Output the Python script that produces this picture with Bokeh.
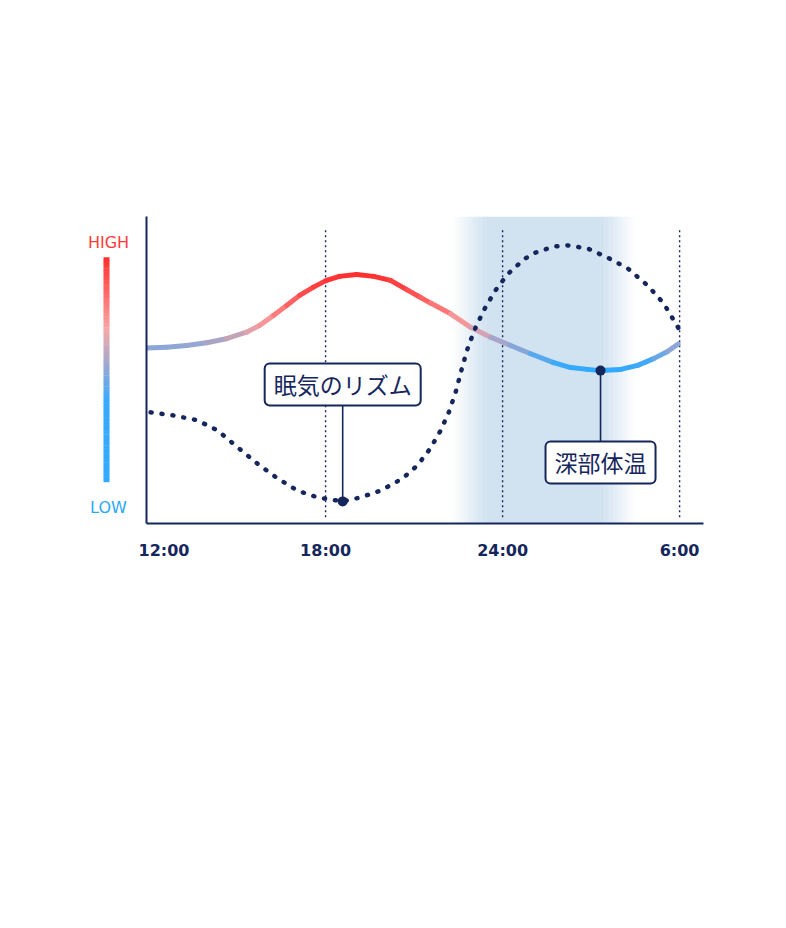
import numpy as np
from bokeh.plotting import figure
from bokeh.layouts import row
from bokeh.models import Range1d, FixedTicker, Label
from bokeh.core.properties import value
from bokeh.embed import file_html
from bokeh.resources import INLINE

NAVY = "#15265c"

# ---------------- data ----------------
tick_hours = [12, 18, 24, 30]
tick_labels = ["12:00", "18:00", "24:00", "6:00"]
guide_hours = [18, 24, 30]

# core body temperature (relative level 0-100)
temp_hours = [11.93, 12.61, 13.29, 13.97, 14.64, 15.32, 15.76, 16.24, 16.68, 17.12,
              17.59, 18.03, 18.47, 19.05, 19.63, 20.20, 20.78, 21.22, 21.56, 22.24,
              22.92, 23.59, 24.27, 24.95, 25.73, 26.31, 26.88, 27.32, 28.00, 28.58,
              29.12, 29.59, 29.95]
temp_level = [57.2, 57.4, 58.0, 58.9, 60.2, 62.3, 64.5, 67.8, 71.0, 74.3,
              77.0, 79.2, 80.5, 81.1, 80.5, 79.2, 76.0, 73.6, 71.8, 68.3,
              63.9, 60.7, 58.0, 55.3, 52.4, 50.8, 50.2, 49.8, 50.2, 51.5,
              53.7, 56.0, 58.5]

# sleepiness rhythm (relative level 0-100)
sleep_hours = [12.07, 12.85, 13.66, 14.34, 15.02, 15.69, 16.37, 17.05, 17.73, 18.58,
               19.19, 19.86, 20.60, 21.11, 21.54, 21.90, 22.18, 22.41, 22.60, 22.80,
               23.05, 23.37, 23.74, 24.16, 24.72, 25.04, 25.73, 26.20, 26.88, 27.56,
               28.24, 28.92, 29.46, 29.97]
sleep_level = [36.2, 35.2, 33.6, 30.3, 24.8, 19.5, 14.7, 10.7, 8.5, 7.2,
               8.5, 10.7, 14.6, 18.9, 24.3, 30.3, 36.3, 42.8, 49.8, 56.6,
               63.1, 69.6, 75.7, 81.1, 86.0, 88.0, 90.2, 90.6, 89.6, 86.6,
               83.1, 77.5, 71.7, 63.5]

# sleep period shading: fade-in start, full start, full end, fade-out end
sleep_period = [22.20, 23.50, 27.32, 28.60]

label_sleep = "眠気のリズム"
label_temp = "深部体温"
legend_high = "HIGH"
legend_low = "LOW"

# ---------------- helpers ----------------
def hex2rgb(h):
    h = h.lstrip("#")
    return np.array([int(h[i:i + 2], 16) for i in (0, 2, 4)], dtype=float)

def rgb2hex(c):
    c = np.clip(np.round(c), 0, 255).astype(int)
    return "#%02x%02x%02x" % tuple(c)

def ramp(stops, v):
    vs = [s[0] for s in stops]
    if v <= vs[0]:
        return stops[0][1]
    if v >= vs[-1]:
        return stops[-1][1]
    for k in range(len(stops) - 1):
        if vs[k] <= v <= vs[k + 1]:
            t = (v - vs[k]) / (vs[k + 1] - vs[k])
            return rgb2hex(hex2rgb(stops[k][1]) * (1 - t) + hex2rgb(stops[k + 1][1]) * t)

curve_stops = [(49.8, "#30a9ff"), (52.5, "#40a9fa"), (56.0, "#7ea6dc"), (58.5, "#98a6d2"),
               (61.0, "#c4a3b8"), (64.5, "#f3a2a5"), (70.0, "#ff7676"), (76.0, "#ff4848"),
               (81.5, "#ff2d2d")]
bar_stops = [(13.4, "#33aaff"), (40.0, "#36aaff"), (53.0, "#a8a8cc"), (63.0, "#f6a9a9"),
             (75.0, "#ff6a6a"), (86.6, "#ff2e2e")]

# ---------------- main figure ----------------
W_LEG = 138
yr = Range1d(0, 100)
p = figure(width=786 - W_LEG, height=928, x_range=Range1d(11.93, 30.81), y_range=yr,
           output_backend="svg", toolbar_location=None,
           min_border_left=146 - W_LEG, min_border_right=786 - 703,
           min_border_top=216, min_border_bottom=928 - 523)
p.outline_line_color = None
p.xgrid.visible = False
p.ygrid.visible = False
p.background_fill_color = "white"
p.border_fill_color = "white"

# shading
shade_rgb = hex2rgb("#d1e2f0")
white = np.array([255.0, 255.0, 255.0])
n = 30
lefts, rights, cols = [], [], []
a0, a1, a2, a3 = sleep_period
for k in range(n):
    t0 = k / n
    t1 = (k + 1) / n
    tm = (t0 + t1) / 2
    s = 0.5 * tm + 0.5 * tm * tm * (3 - 2 * tm)
    lefts.append(a0 + (a1 - a0) * t0)
    rights.append(a0 + (a1 - a0) * t1 + 0.01)
    cols.append(rgb2hex(white * (1 - s) + shade_rgb * s))
lefts.append(a1); rights.append(a2 + 0.01); cols.append(rgb2hex(shade_rgb))
for k in range(n):
    t0 = k / n
    t1 = (k + 1) / n
    tm = (t0 + t1) / 2
    s = 1 - (0.5 * tm + 0.5 * tm * tm * (3 - 2 * tm))
    lefts.append(a2 + (a3 - a2) * t0)
    rights.append(a2 + (a3 - a2) * t1 + 0.01)
    cols.append(rgb2hex(white * (1 - s) + shade_rgb * s))
p.quad(left=lefts, right=rights, bottom=0, top=100, fill_color=cols, line_color=None)

# vertical guides
p.segment(x0=guide_hours, y0=2, x1=guide_hours, y1=96.4, line_color=NAVY,
          line_width=1.4, line_dash="2 3")

# temperature curve with gradient
th = np.array(temp_hours); tl = np.array(temp_level)
mid = (tl[:-1] + tl[1:]) / 2
seg_cols = [ramp(curve_stops, v) for v in mid]
p.segment(x0=th[:-1], y0=tl[:-1], x1=th[1:], y1=tl[1:], line_color=seg_cols,
          line_width=5, line_cap="round")

# sleepiness dotted curve
p.line(sleep_hours, sleep_level, line_color=NAVY, line_width=4.5,
       line_dash="1 10", line_cap="round", line_join="round")

# markers + callouts
i = int(np.argmin(sleep_level))
j = int(np.argmin(temp_level))
sx, sy = sleep_hours[i], sleep_level[i]
tx, ty = temp_hours[j], temp_level[j]
sleep_box_y = 45.3
temp_box_y = 19.9
p.segment(x0=[sx, tx], y0=[sy, ty], x1=[sx, tx], y1=[sleep_box_y, temp_box_y],
          line_color=NAVY, line_width=1.6)
p.scatter([sx, tx], [sy, ty], size=10, fill_color=NAVY, line_color=None)

for (lx, ly, txt) in [(sx, sleep_box_y, label_sleep), (tx, temp_box_y, label_temp)]:
    p.add_layout(Label(x=lx, y=ly, text=txt, text_align="center", text_baseline="middle",
                       text_font="Noto Sans CJK JP", text_font_size="23px", text_color=NAVY,
                       background_fill_color="white", border_line_color=NAVY,
                       border_line_width=2, border_radius=5, padding=(9, 4)))

# axes
p.xaxis.ticker = FixedTicker(ticks=tick_hours)
p.xaxis.major_label_overrides = {h: l for h, l in zip(tick_hours, tick_labels)}
p.xaxis.major_tick_out = 0
p.xaxis.major_tick_in = 0
p.xaxis.minor_tick_out = 0
p.xaxis.minor_tick_in = 0
p.xaxis.axis_line_color = NAVY
p.xaxis.axis_line_width = 2
p.xaxis.major_label_standoff = 17
p.xaxis.major_label_text_font = "DejaVu Sans"
p.xaxis.major_label_text_font_style = "bold"
p.xaxis.major_label_text_font_size = "16px"
p.xaxis.major_label_text_color = NAVY

p.yaxis.ticker = FixedTicker(ticks=[])
p.yaxis.major_tick_out = 0
p.yaxis.major_tick_in = 0
p.yaxis.minor_tick_out = 0
p.yaxis.minor_tick_in = 0
p.yaxis.major_label_standoff = 0
p.yaxis.axis_line_color = NAVY
p.yaxis.axis_line_width = 2
p.yaxis.major_label_text_font_size = "0px"

# ---------------- legend figure ----------------
lg = figure(width=W_LEG, height=928, x_range=Range1d(0, W_LEG), y_range=yr,
            x_axis_type=None, y_axis_type=None, output_backend="svg", toolbar_location=None,
            min_border_left=0, min_border_right=0, min_border_top=216,
            min_border_bottom=928 - 523)
lg.outline_line_color = None
lg.xgrid.visible = False
lg.ygrid.visible = False

nb = 80
b0, b1 = 13.4, 86.6
bb = [b0 + (b1 - b0) * k / nb for k in range(nb)]
bt = [b0 + (b1 - b0) * (k + 1) / nb + 0.15 for k in range(nb)]
bc = [ramp(bar_stops, (a + b) / 2) for a, b in zip(bb, bt)]
lg.quad(left=103, right=109, bottom=bb, top=bt, fill_color=bc, line_color=None)
lg.text(x=[108], y=[91.5], text=[legend_high], text_align="center", text_baseline="middle",
        text_font=value("DejaVu Sans"), text_font_size="16px", text_color="#ff3b3b")
lg.text(x=[108], y=[5.2], text=[legend_low], text_align="center", text_baseline="middle",
        text_font=value("DejaVu Sans"), text_font_size="16px", text_color="#2ba8f5")

layout = row(lg, p)
open("out.html", "w").write(file_html(layout, INLINE))
